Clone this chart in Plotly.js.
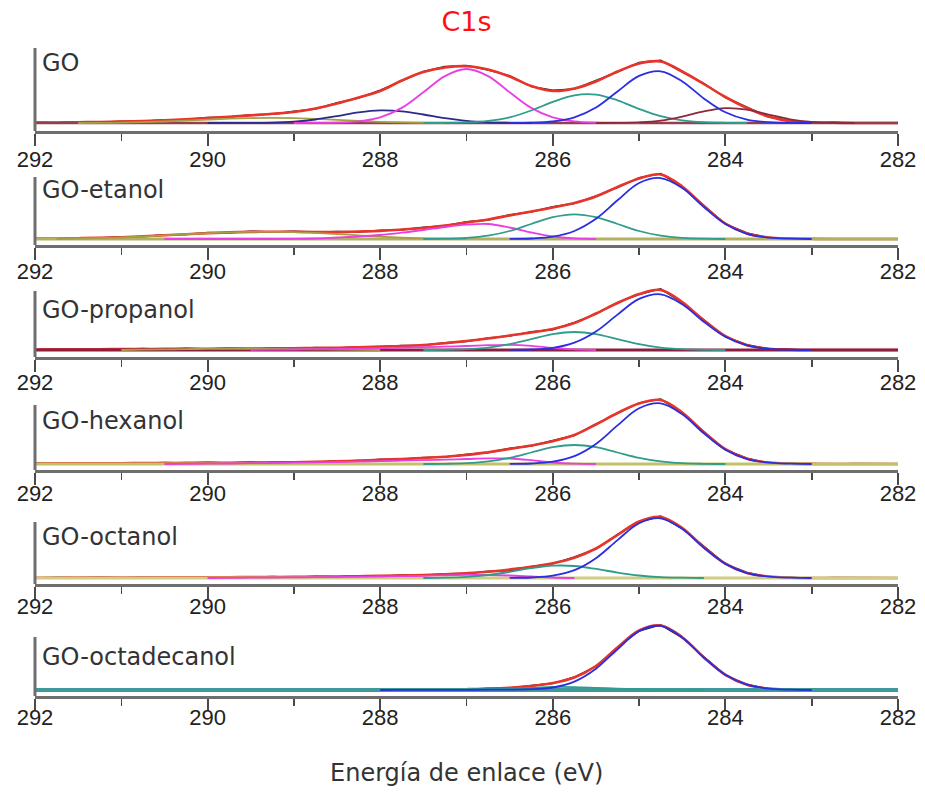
<!DOCTYPE html>
<html><head><meta charset="utf-8">
<script src="https://cdn.plot.ly/plotly-3.0.1.min.js"></script>
<style>html,body{margin:0;padding:0;background:#fff}#plot{width:925px;height:797px}</style>
</head><body><div id="plot"></div>
<script>
// Shared binding-energy grid (eV)
const E = [292,291.75,291.5,291.25,291,290.75,290.5,290.25,290,289.75,289.5,289.25,289,288.75,288.5,288.25,288,287.75,287.5,287.25,287,286.75,286.5,286.25,286,285.75,285.5,285.25,285,284.75,284.5,284.25,284,283.75,283.5,283.25,283,282.75,282.5,282.25,282];
const tickLabels = ['292','290','288','286','284','282'];
const panelNames = ['GO','GO-etanol','GO-propanol','GO-hexanol','GO-octanol','GO-octadecanol'];

// ---- GO ----
const goData = [0.8,0.2,1.1,0.7, 1.8,1.6,3.2,3.5, 5.4,6.0,8.1,8.8, 11.6,14.0,20.3,25.0, 32.8,42.0,51.6,56.4, 57.5,53.0,47.2,36.5, 32.6,34.0,42.2,51.0, 60.4,62.6,51.0,39.6, 25.4,15.6,6.0,2.3, 0.3,0.6,-0.2,0.3, 0.1];
const goFit  = [0.5,0.5,0.8,1.0, 1.4,2.0,2.8,3.8, 5.0,6.3,7.6,9.2, 11.0,14.5,19.5,25.5, 32.0,42.5,51.0,55.5, 56.8,53.5,46.5,37.0, 32.0,34.5,41.5,51.5, 59.5,61.5,51.5,39.0, 26.0,15.0,6.5,1.8, 0.5,0.2,0,0, 0];
const goBlueFrom = 286.5;   const goBlue = [0.1,0.3,1.5,5.6,15.5,31.6,47.1,51.7,41.6,24.6,10.7,3.4,0.8,0.1,0];
const goTealFrom = 287.5;   const goTeal = [0,0.1,0.6,2.1,5.7,12.5,21.1,27.7,28.4,22.7,14.1,6.8,2.6,0.8,0.2,0];
const goMagFrom = 289.0;    const goMag = [0,0.1,0.3,1.6,5.6,15.1,30.7,46.9,54,46.9,30.7,15.1,5.6,1.6,0.3,0.1,0];
const goNavyFrom = 290.0;   const goNavy = [0,0.05,0.1,0.4,1.4,3.5,6.9,10.6,12.6,11.7,8.5,4.8,2.1,0.7,0.2,0];
const goMaroonFrom = 285.5; const goMaroon = [0,0.1,0.7,2.4,6.4,11.6,14.9,13.4,8.4,3.7,1.2,0.3,0];
const goOliveFrom = 291.5;  const goOlive = [0,0.1,0.3,0.8,1.5,2.4,3.4,4.3,4.9,5.1,4.8,4.1,3.1,2.1,1.2,0.6,0.2,0];

// ---- GO-etanol ----
const etData = [0.6,0.2,1.2,0.9, 2.3,2.4,4.2,4.5, 6.4,6.2,7.8,6.9, 7.7,6.6,7.5,7.1, 8.6,9.1,11.6,13.1, 17.1,19.1,24.2,27.1, 32.3,35.6,43.1,51.6, 61.2,65.4,52.0,33.4, 15.0,6.0,1.2,0.8, 0.3,-0.2,0.3,0.0, 0.2];
const etFit  = [0.3,0.5,0.8,1.2, 1.8,2.7,3.7,4.8, 5.8,6.6,7.1,7.3, 7.2,7.0,7.0,7.5, 8.0,9.5,11.0,13.5, 16.5,19.5,23.5,27.5, 31.5,36.0,42.5,52.0, 60.5,64.5,52.5,33.0, 15.5,5.5,1.5,0.5, 0.2,0,0,0, 0];
const etBlueFrom = 286.5;  const etBlue = [0.1,0.5,2.3,8.0,20.2,38.7,56.0,60.9,51.0,32.0,15.0,5.2,1.4,0.3,0];
const etTealFrom = 287.5;  const etTeal = [0,0.3,1.1,3.3,8.0,15.0,21.8,24.7,21.8,15.0,8.0,3.3,1.1,0.3,0];
const etMagFrom = 290.5;   const etMag = [0,0,0,0,0,0,0.1,0.5,1.5,2.5,4.0,6.3,9.0,12.0,14.3,15.0,11.5,6.5,2.5,0.6,0];
const etOliveFrom = 291.75;const etOlive = [0,0.3,0.8,1.5,2.5,3.6,4.8,5.8,6.6,7.1,7.2,6.9,6.1,5.0,3.7,2.4,1.3,0.6,0.2,0];

// ---- GO-propanol ----
const prData = [0.2,0.9,0.4,1.1, 0.6,1.4,0.8,1.6, 1.0,1.8,1.2,2.0, 1.5,2.5,2.0,3.2, 3.0,4.5,4.6,7.3, 8.6,12.0,14.0,18.2, 20.4,27.6,36.0,47.5, 55.4,61.2,47.4,30.1, 13.2,5.3,0.9,0.6, -0.2,0.3,0.0,0.2, 0];
const prFit  = [0.5,0.6,0.7,0.8, 0.9,1.0,1.1,1.2, 1.3,1.4,1.5,1.6, 1.8,2.0,2.3,2.8, 3.4,4.0,5.0,6.8, 9.0,11.5,14.5,17.5, 21.0,27.0,36.5,47.0, 56.0,60.0,48.0,29.5, 13.8,4.8,1.3,0.3, 0,0,0,0, 0];
const prBlueFrom = 286.5;  const prBlue = [0.1,0.5,2.1,7.3,18.5,35.4,51.1,55.7,45.7,28.2,13.2,4.6,1.2,0.2,0];
const prTealFrom = 287.5;  const prTeal = [0,0.2,0.8,2.4,5.9,10.9,15.9,18.0,15.9,10.9,5.9,2.4,0.8,0.2,0];
const prMagFrom = 289.5;   const prMag = [0,0.3,0.5,0.8,1.0,1.4,1.8,2.3,2.8,3.4,4.0,4.8,5.2,4.2,2.0,0.6,0];
const prOliveFrom = 291.0; const prOlive = [0,0.3,0.6,0.9,1.1,1.2,1.2,1.1,0.9,0.7,0.4,0.2,0];

// ---- GO-hexanol ----
const hxData = [1.0,0.3,1.2,0.4, 1.1,0.6,1.5,0.9, 1.6,1.0,1.9,1.3, 2.2,1.8,3.1,3.0, 4.8,4.6,6.5,7.0, 9.6,11.4,15.6,18.1, 23.5,28.6,40.1,50.5, 61.1,65.0,51.0,32.4, 14.2,5.7,1.0,0.7, 0.4,-0.1,0.5,0.1, 0.3];
const hxFit  = [0.5,0.6,0.6,0.7, 0.8,0.9,1.0,1.1, 1.2,1.3,1.4,1.6, 1.8,2.1,2.6,3.4, 4.3,5.0,6.0,7.3, 9.0,11.8,15.0,18.5, 22.8,29.0,39.5,51.0, 60.5,64.0,51.5,31.8, 14.8,5.2,1.4,0.3, 0.1,0,0,0, 0];
const hxBlueFrom = 286.5;  const hxBlue = [0.1,0.5,2.3,7.9,20.1,38.6,55.7,60.7,49.8,30.7,14.3,5.0,1.3,0.3,0];
const hxTealFrom = 287.5;  const hxTeal = [0,0.2,0.8,2.6,6.2,11.5,16.8,19.0,16.8,11.5,6.2,2.6,0.8,0.2,0];
const hxMagFrom = 290.5;   const hxMag = [0,0.2,0.3,0.5,0.8,1.0,1.3,1.6,2.0,2.4,2.8,3.3,3.8,4.4,5.0,5.6,5.5,3.8,1.5,0.3,0];

// ---- GO-octanol ----
const ocData = [0.0,0.7,0.2,0.9, 0.3,0.9,0.4,1.0, 0.4,1.3,0.6,1.5, 0.8,1.7,1.2,2.3, 1.7,3.0,2.6,4.3, 4.3,6.8,7.3,11.4, 14.2,20.9,29.0,43.6, 55.9,61.8,49.5,31.3, 13.9,5.5,1.0,0.6, -0.2,0.4,0.1,-0.1, 0.2];
const ocFit  = [0.3,0.3,0.4,0.4, 0.5,0.5,0.6,0.6, 0.7,0.8,0.9,1.0, 1.1,1.3,1.5,1.8, 2.1,2.5,3.0,3.8, 4.8,6.2,8.5,11.2, 14.8,20.3,29.5,43.0, 56.5,61.0,50.0,30.8, 14.4,5.0,1.4,0.3, 0,0,0,0, 0];
const ocBlueFrom = 286.5;  const ocBlue = [0.1,0.5,2.3,7.8,19.8,37.9,54.8,59.7,49.0,30.2,14.1,4.9,1.3,0.3,0];
const ocTealFrom = 287.5;  const ocTeal = [0,0.3,1.1,3.0,6.1,9.8,12.3,12.0,9.1,5.4,2.5,0.9,0.3,0];
const ocMagFrom = 290.0;   const ocMag = [0,0.1,0.3,0.4,0.6,0.8,1.0,1.2,1.5,1.8,2.2,2.7,3.2,3.0,2.5,1.5,0.5,0];

// ---- GO-octadecanol ----
const odData = [0.1,-0.1,0.2,0, 0.1,-0.1,0.1,0, 0.2,0,-0.1,0.1, 0,0.2,0.1,0.3, 0.2,0.4,0.3,0.7, 0.6,1.6,2.0,4.4, 6.6,12.9,23.6,42.9, 59.1,65.2,52.3,33.1, 14.8,5.6,1.1,0.6, 0.2,0.4,0.1,0.2, 0.1];
const odFit  = [0,0,0,0, 0,0,0,0, 0,0,0,0, 0,0,0,0.1, 0.1,0.2,0.3,0.5, 0.8,1.3,2.3,4.0, 7.0,12.5,24.0,42.5, 59.5,64.5,52.8,32.6, 15.2,5.3,1.4,0.3, 0,0,0,0, 0];
const odBlueFrom = 288.0;  const odBlue = [0,0.05,0.1,0.15,0.2,0.3,0.4,0.8,2.5,8.4,21.3,40.8,58.9,64.1,52.6,32.5,15.2,5.3,1.4,0.3,0];
const odTealFrom = 287.25; const odTeal = [0,0.3,0.7,1.2,2.2,3.0,2.9,2.2,1.4,0.7,0.3,0.1,0];

// ---- styles ----
const COL = {data:'#1e1e1e', fit:'#e8352b', blue:'#2a2ee0', teal:'#2f9c8c', mag:'#e83fe0', navy:'#2b2b8c', maroon:'#8c2a3c', olive:'#a89f45'};
const panels = [
  {name:panelNames[0], data:goData, fit:goFit, base:'#93404e', baseW:2.5,
   comps:[[goOlive,goOliveFrom,COL.olive],[goNavy,goNavyFrom,COL.navy],[goMag,goMagFrom,COL.mag],[goTeal,goTealFrom,COL.teal],[goMaroon,goMaroonFrom,COL.maroon],[goBlue,goBlueFrom,COL.blue]]},
  {name:panelNames[1], data:etData, fit:etFit, base:'#b4b060', baseW:3,
   comps:[[etOlive,etOliveFrom,COL.olive],[etMag,etMagFrom,COL.mag],[etTeal,etTealFrom,COL.teal],[etBlue,etBlueFrom,COL.blue]]},
  {name:panelNames[2], data:prData, fit:prFit, base:'#8a1f40', baseW:3,
   comps:[[prOlive,prOliveFrom,COL.olive],[prMag,prMagFrom,COL.mag],[prTeal,prTealFrom,COL.teal],[prBlue,prBlueFrom,COL.blue]]},
  {name:panelNames[3], data:hxData, fit:hxFit, base:'#c4c268', baseW:3,
   comps:[[hxMag,hxMagFrom,COL.mag],[hxTeal,hxTealFrom,COL.teal],[hxBlue,hxBlueFrom,COL.blue]]},
  {name:panelNames[4], data:ocData, fit:ocFit, base:'#cfcc84', baseW:3,
   comps:[[ocMag,ocMagFrom,COL.mag],[ocTeal,ocTealFrom,COL.teal],[ocBlue,ocBlueFrom,COL.blue]]},
  {name:panelNames[5], data:odData, fit:odFit, base:'#3e9a9a', baseW:4,
   comps:[[odTeal,odTealFrom,COL.teal],[odBlue,odBlueFrom,COL.blue]]}
];
// pixel geometry of each panel: axis line, zero-intensity baseline, top of vertical line, label centre, tick label standoff
const geo = [
  {axis:131, base:123, top:48,  label:63,  standoff:-5},
  {axis:245, base:239, top:177, label:190, standoff:-7},
  {axis:357, base:350, top:291, label:310, standoff:-8},
  {axis:470, base:464, top:405, label:421, standoff:-10},
  {axis:584, base:578, top:522, label:537, standoff:-11},
  {axis:696, base:690, top:637, label:657, standoff:-12}
];
const H = 797, W = 925;
const py = p => 1 - p / H;
const FONT = '"Liberation Sans", Arial, sans-serif';
const FONT2 = '"DejaVu Sans", Verdana, sans-serif';

const traces = [], shapes = [], annotations = [];
const layout = {
  width: W, height: H, margin: {l:35, r:27, t:0, b:0},
  paper_bgcolor:'#fff', plot_bgcolor:'rgba(0,0,0,0)', showlegend:false,
  title: {text:'C1s', font:{family:FONT2, size:27, color:'#ff1010'}, x:0.5, xref:'paper', y:1-22/H, yref:'container', yanchor:'middle', xanchor:'center'},
  shapes, annotations
};

panels.forEach((p, i) => {
  const g = geo[i];
  const n = i + 1;
  const xa = 'x' + (n === 1 ? '' : n), ya = 'y' + (n === 1 ? '' : n);
  const off = g.axis - g.base;
  layout['xaxis' + (n === 1 ? '' : n)] = {
    domain:[0,1], range:[292,282], anchor: ya, showline:true, linecolor:'#6e6e6e', linewidth:3,
    ticks:'outside', ticklen:12, tickwidth:2, tickcolor:'#4a4a4a',
    tickmode:'array', tickvals: tickLabels.map(Number), ticktext: tickLabels,
    minor:{dtick:1, tick0:283, ticks:'outside', ticklen:7, tickwidth:1.6, tickcolor:'#4a4a4a', showgrid:false},
    showgrid:false, zeroline:false, ticklabelstandoff: g.standoff,
    tickfont:{family:FONT, size:22, color:'#222'}, fixedrange:true
  };
  layout['yaxis' + (n === 1 ? '' : n)] = {
    domain:[py(g.axis), py(g.axis - 100)], range:[-off, 100 - off], visible:false, fixedrange:true
  };
  // measured spectrum
  traces.push({x:E, y:p.data, xaxis:xa, yaxis:ya, mode:'lines', line:{color:COL.data, width:1.6}, hoverinfo:'skip'});
  // envelope
  traces.push({x:E, y:p.fit, xaxis:xa, yaxis:ya, mode:'lines', line:{color:COL.fit, width:2.6, shape:'spline', smoothing:1}, hoverinfo:'skip'});
  // baseline
  traces.push({x:[E[0], E[E.length-1]], y:[0,0], xaxis:xa, yaxis:ya, mode:'lines', line:{color:p.base, width:p.baseW}, hoverinfo:'skip'});
  // components
  p.comps.forEach(([vals, from, col]) => {
    const s = E.indexOf(from);
    traces.push({x:E.slice(s, s + vals.length), y:vals, xaxis:xa, yaxis:ya, mode:'lines',
      line:{color:col, width:1.8, shape:'spline', smoothing:1}, hoverinfo:'skip'});
  });
  // vertical intensity line
  shapes.push({type:'line', xref:'paper', yref:'paper', x0:0, x1:0, y0:py(g.axis), y1:py(g.top), line:{color:'#6e6e6e', width:3}});
  // panel label
  annotations.push({text:p.name, xref:'paper', yref:'paper', x:0, xshift:5, y:py(g.label), xanchor:'left', yanchor:'middle', showarrow:false, font:{family:FONT2, size:24, color:'#333'}});
});
annotations.push({text:'Energía de enlace (eV)', xref:'paper', yref:'paper', x:0.5, y:py(773), xanchor:'center', yanchor:'middle', showarrow:false, font:{family:FONT2, size:24, color:'#333'}});

Plotly.newPlot('plot', traces, layout, {staticPlot:true, displayModeBar:false});
</script></body></html>
